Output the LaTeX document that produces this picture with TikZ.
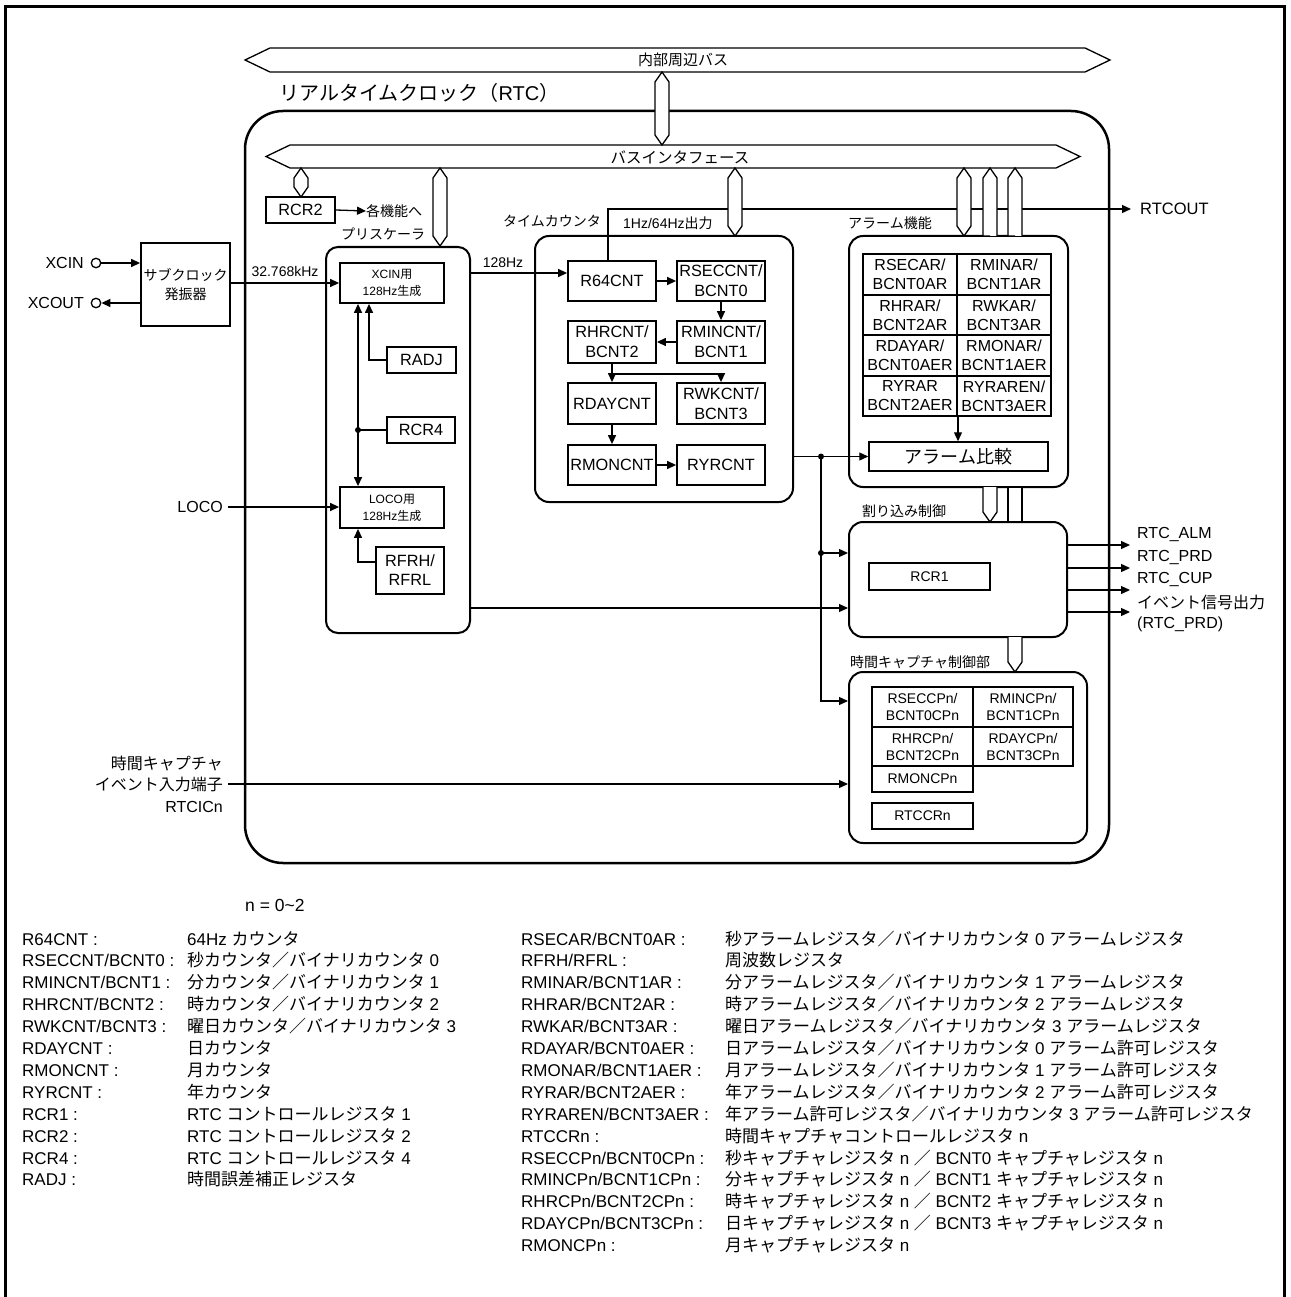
\documentclass[tikz,border=0pt]{standalone}
\usepackage{fontspec}
\setmainfont{Liberation Sans}
\newfontfamily\jp{Noto Sans CJK JP}
\usetikzlibrary{arrows.meta}
\newcommand\myfs[2]{\fontsize{#1pt}{#2pt}\selectfont}
\newcommand\vbus[3]{\draw[bus] (#1,#2) -- (#1+7,#2+10) -- (#1+7,#3-10) -- (#1,#3) -- (#1-7,#3-10) -- (#1-7,#2+10) -- cycle;}
\newcommand\lrowL[3]{\node[leg] (la#1) at (22,{945+21.9*#1}) {#2};\node[leg] (lb#1) at (187,{945+21.9*#1}) {#3};}
\newcommand\lrowR[3]{\node[leg] (ra#1) at (521,{945+21.9*#1}) {#2};\node[leg] (rb#1) at (725,{945+21.9*#1}) {#3};}
\tikzset{
 reg/.style={draw, line width=1.8pt, inner sep=0pt, align=center, fill=white, font=\myfs{16.3}{20}},
 grp/.style={draw, line width=2pt, rounded corners=14pt, inner sep=0pt},
 lab/.style={inner sep=0pt, font=\jp\myfs{14}{16}},
 sig/.style={inner sep=0pt, font=\myfs{16}{19}},
 ln/.style={line width=1.3pt},
 arr/.style={line width=1.3pt, -{Triangle[length=9pt,width=8pt]}},
 bus/.style={draw, line width=1.3pt, fill=white, line join=miter},
 leg/.style={inner sep=0pt, anchor=base west, font=\myfs{17}{20}},
 jdot/.style={circle, fill, inner sep=0pt, minimum size=6pt},
 pin/.style={circle, draw, line width=1.3pt, inner sep=0pt, minimum size=9.5pt},
 cell/.style={reg, line width=2pt, minimum width=94pt, minimum height=40.5pt, font=\myfs{16}{19}},
 ccell/.style={reg, line width=2pt, font=\myfs{14}{17}},
}
\begin{document}
\begin{tikzpicture}[x=1pt,y=-1pt]
\useasboundingbox (0,0) rectangle (1290,1297);
% frame
\draw[line width=3pt] (5,1297) -- (5,7) -- (1284,7) -- (1284,1297);

% RTC block
\node[grp, line width=2.5pt, rounded corners=38pt, minimum width=864pt, minimum height=752pt] (rtc) at (677,487) {};
\node[inner sep=0pt, anchor=west, font=\jp\myfs{20}{20}] (rtct) at (279,93) {リアルタイムクロック（{\rmfamily RTC}）};

% internal bus
\draw[bus] (245,60) -- (270,48) -- (1085,48) -- (1110,60) -- (1085,72) -- (270,72) -- cycle;
\node[lab, font=\jp\myfs{15}{15}] (ibusl) at (683,60) {内部周辺バス};

% bus interface
\draw[bus] (266,156.5) -- (290,145) -- (1056,145) -- (1080,156.5) -- (1056,168) -- (290,168) -- cycle;
\node[lab, font=\jp\myfs{15.5}{16}] (bifl) at (680,157) {バスインタフェース};

% groups
\node[grp, rounded corners=12pt, minimum width=144pt, minimum height=386pt] (pre) at (398,440) {};
\node[grp, minimum width=258pt, minimum height=266pt] (tc) at (664,369) {};
\node[grp, minimum width=219pt, minimum height=251pt] (alm) at (958.5,361.5) {};
\node[grp, minimum width=218pt, minimum height=115pt] (irq) at (958,579.5) {};
\node[grp, minimum width=238pt, minimum height=171pt] (cap) at (968,757.5) {};

% group labels
\node[lab] (prel) at (383,234) {プリスケーラ};
\node[lab] (tcl) at (552,221) {タイムカウンタ};
\node[lab, anchor=west] (outl) at (623,223) {{\rmfamily 1Hz/64Hz}出力};
\node[lab, anchor=west] (alml) at (848,223) {アラーム機能};
\node[lab, anchor=west] (irql) at (862,511) {割り込み制御};
\node[lab, anchor=west] (capl) at (850,662) {時間キャプチャ制御部};

% counters
\node[reg, minimum width=88pt, minimum height=40pt] (r64) at (612,281) {R64CNT};
\node[reg, minimum width=88pt, minimum height=40pt] (rsec) at (721,281) {RSECCNT/\\BCNT0};
\node[reg, minimum width=88pt, minimum height=42pt] (rmin) at (721,342) {RMINCNT/\\BCNT1};
\node[reg, minimum width=88pt, minimum height=42pt] (rhr) at (612,342) {RHRCNT/\\BCNT2};
\node[reg, minimum width=88pt, minimum height=41pt] (rday) at (612,403.5) {RDAYCNT};
\node[reg, minimum width=88pt, minimum height=41pt] (rwk) at (721,403.5) {RWKCNT/\\BCNT3};
\node[reg, minimum width=88pt, minimum height=40pt] (rmon) at (612,465) {RMONCNT};
\node[reg, minimum width=88pt, minimum height=40pt] (ryr) at (721,465) {RYRCNT};

% RTCOUT
\node[sig, anchor=west, font=\myfs{16.5}{19}] (rtcout) at (1140,209) {RTCOUT};
\draw[arr, shorten >=9pt] ([xshift=-4pt]r64.north) |- (rtcout.west);

% vertical buses
\vbus{662}{72}{145}
\vbus{301}{168}{197}
\vbus{440}{168}{246}
\vbus{735}{168}{236}
\vbus{964}{168}{236}
\draw[bus] (990,236) -- (983,236) -- (983,178) -- (990,168) -- (997,178) -- (997,236);
\draw[bus] (1015,236) -- (1008,236) -- (1008,178) -- (1015,168) -- (1022,178) -- (1022,236);
\draw[bus] (983,487) -- (983,512) -- (990,522) -- (997,512) -- (997,487);
\fill[white] (1008,488) rectangle (1022,521);
\draw[ln] (1008,487) -- (1008,522) (1022,487) -- (1022,522);
\draw[bus] (1008,637) -- (1008,662) -- (1015,672) -- (1022,662) -- (1022,637);

% RCR2
\node[reg, minimum width=69pt, minimum height=26pt] (rcr2) at (300.5,210) {RCR2};
\node[lab, anchor=west] (kaku) at (366,211) {各機能へ};
\draw[arr] (rcr2.east) -- (kaku.west);

% sub clock
\node[reg, font=\jp\myfs{14}{19}, minimum width=89pt, minimum height=83pt] (sub) at (185.5,284.5) {サブクロック\\発振器};
\node[pin] (xcinc) at (96,263) {};
\node[pin] (xcoutc) at (96,303) {};
\node[sig, anchor=east] (xcinl) at (84,263) {XCIN};
\node[sig, anchor=east] (xcoutl) at (84,303) {XCOUT};
\draw[arr] (xcinc.east) -- (xcinc.east -| sub.west);
\draw[arr] (xcoutc.east -| sub.west) -- (xcoutc.east);

% prescaler content
\node[reg, font=\myfs{12}{17}, minimum width=104pt, minimum height=40pt] (xg) at (392,283) {XCIN{\jp 用}\\128Hz{\jp 生成}};
\node[reg, font=\myfs{12}{17}, minimum width=104pt, minimum height=41pt] (lg) at (392,507.5) {LOCO{\jp 用}\\128Hz{\jp 生成}};
\node[reg, minimum width=69pt, minimum height=26pt] (radj) at (421.5,360) {RADJ};
\node[reg, minimum width=68pt, minimum height=26pt] (rcr4) at (421,430) {RCR4};
\node[reg, minimum width=68pt, minimum height=47pt, font=\myfs{16.3}{19}] (rfrh) at (410,570.5) {RFRH/\\RFRL};
\node[jdot] (pdot) at (358,430) {};
\draw[ln, {Triangle[length=9pt,width=8pt]}-{Triangle[length=9pt,width=8pt]}] (xg.south -| pdot) -- (lg.north -| pdot);
\draw[ln] (rcr4.west) -- (pdot.center);
\draw[arr] (radj.west) -| ([xshift=-23pt]xg.south);
\draw[arr] ([yshift=8.5pt]rfrh.west) -| (lg.south -| pdot);

\draw[arr] (sub.east |- xg.west) -- (xg.west);
\node[lab, font=\myfs{14}{16}] (khz) at (285,271) {32.768kHz};
\node[sig, anchor=east] (loco) at (223,507) {LOCO};
\draw[arr] ([xshift=5pt]loco.east) -- (lg.west |- loco.east);

% 128Hz
\coordinate (r64in) at ([yshift=8pt]r64.west);
\draw[arr] (pre.east |- r64in) -- (r64in);
\node[lab, font=\myfs{14}{16}] (l128) at (503,263) {128Hz};

% counter arrows
\draw[arr] (r64.east) -- (rsec.west);
\draw[arr] (rsec.south) -- (rmin.north);
\draw[arr] (rmin.west) -- (rhr.east);
\coordinate (hrbr) at ([yshift=-10pt]rhr.south);
\draw[ln] (rhr.south) -- (hrbr);
\draw[arr] (hrbr) -- (rday.north);
\draw[arr] (hrbr) -| (rwk.north);
\draw[arr] (rday.south) -- (rmon.north);
\draw[arr] (rmon.east) -- (ryr.west);

% alarm grid
\node[cell] (a11) at (910,274.5) {RSECAR/\\BCNT0AR};
\node[cell] (a12) at (1004,274.5) {RMINAR/\\BCNT1AR};
\node[cell] (a21) at (910,315) {RHRAR/\\BCNT2AR};
\node[cell] (a22) at (1004,315) {RWKAR/\\BCNT3AR};
\node[cell] (a31) at (910,355.5) {RDAYAR/\\BCNT0AER};
\node[cell] (a32) at (1004,355.5) {RMONAR/\\BCNT1AER};
\node[cell] (a41) at (910,396) {RYRAR\\BCNT2AER};
\node[cell] (a42) at (1004,396) {RYRAREN/\\BCNT3AER};
\node[reg, line width=1.5pt, minimum width=179pt, minimum height=29pt, font=\jp\myfs{18}{20}] (acmp) at (958.5,456.5) {アラーム比較};
\draw[arr] (a41.south east) -- (acmp.north -| a41.south east);

% time counter output
\coordinate (tco) at (tc.east |- acmp.west);
\draw[arr] (tco) -- (acmp.west);
\node[jdot] (d1) at (821,456.5) {};
\node[jdot] (d2) at (821,553) {};
\draw[arr] (d1.center) |- ([yshift=56.5pt]cap.west);
\draw[arr] (d2.center) -- (d2.center -| irq.west);
\coordinate (irqin2) at ([yshift=-28.5pt]irq.west);
\draw[arr] (pre.east |- irqin2) -- (irqin2);

% interrupt
\node[reg, minimum width=121pt, minimum height=27pt, font=\myfs{14}{16}] (rcr1) at (929.5,576.5) {RCR1};
\coordinate (o1) at (1130,545);
\coordinate (o2) at (1130,568);
\coordinate (o3) at (1130,590);
\coordinate (o4) at (1130,612);
\draw[arr] (irq.east |- o1) -- (o1);
\draw[arr] (irq.east |- o2) -- (o2);
\draw[arr] (irq.east |- o3) -- (o3);
\draw[arr] (irq.east |- o4) -- (o4);
\node[sig, anchor=west] (s1) at (1137,534) {RTC\_ALM};
\node[sig, anchor=west] (s2) at (1137,557) {RTC\_PRD};
\node[sig, anchor=west] (s3) at (1137,579) {RTC\_CUP};
\node[sig, anchor=west, font=\jp\myfs{16}{19}] (s4) at (1137,602) {イベント信号出力};
\node[sig, anchor=west] (s5) at (1137,624) {(RTC\_PRD)};

% capture
\node[ccell, minimum width=101pt, minimum height=40pt] (c11) at (922.5,707) {RSECCPn/\\BCNT0CPn};
\node[ccell, minimum width=100pt, minimum height=40pt] (c12) at (1023,707) {RMINCPn/\\BCNT1CPn};
\node[ccell, minimum width=101pt, minimum height=39pt] (c21) at (922.5,746.5) {RHRCPn/\\BCNT2CPn};
\node[ccell, minimum width=100pt, minimum height=39pt] (c22) at (1023,746.5) {RDAYCPn/\\BCNT3CPn};
\node[ccell, minimum width=101pt, minimum height=26pt] (c31) at (922.5,779) {RMONCPn};
\node[ccell, minimum width=101pt, minimum height=26pt] (rtccr) at (922.5,816) {RTCCRn};

\node[sig, align=right, anchor=east, font=\jp\myfs{16}{21.5}] (rtcic) at (223,784) {時間キャプチャ\\イベント入力端子\\{\rmfamily RTCICn}};
\draw[arr] ([xshift=5pt]rtcic.east) -- (cap.west |- rtcic.east);

% legend
\node[leg, anchor=west, font=\myfs{17.5}{20}] (nn) at (245,905) {n = 0\textasciitilde 2};
\lrowL{0}{R64CNT :}{64Hz {\jp カウンタ}}
\lrowL{1}{RSECCNT/BCNT0 :}{{\jp 秒カウンタ／バイナリカウンタ} 0}
\lrowL{2}{RMINCNT/BCNT1 :}{{\jp 分カウンタ／バイナリカウンタ} 1}
\lrowL{3}{RHRCNT/BCNT2 :}{{\jp 時カウンタ／バイナリカウンタ} 2}
\lrowL{4}{RWKCNT/BCNT3 :}{{\jp 曜日カウンタ／バイナリカウンタ} 3}
\lrowL{5}{RDAYCNT :}{{\jp 日カウンタ}}
\lrowL{6}{RMONCNT :}{{\jp 月カウンタ}}
\lrowL{7}{RYRCNT :}{{\jp 年カウンタ}}
\lrowL{8}{RCR1 :}{RTC {\jp コントロールレジスタ} 1}
\lrowL{9}{RCR2 :}{RTC {\jp コントロールレジスタ} 2}
\lrowL{10}{RCR4 :}{RTC {\jp コントロールレジスタ} 4}
\lrowL{11}{RADJ :}{{\jp 時間誤差補正レジスタ}}

\lrowR{0}{RSECAR/BCNT0AR :}{{\jp 秒アラームレジスタ／バイナリカウンタ} 0 {\jp アラームレジスタ}}
\lrowR{1}{RFRH/RFRL :}{{\jp 周波数レジスタ}}
\lrowR{2}{RMINAR/BCNT1AR :}{{\jp 分アラームレジスタ／バイナリカウンタ} 1 {\jp アラームレジスタ}}
\lrowR{3}{RHRAR/BCNT2AR :}{{\jp 時アラームレジスタ／バイナリカウンタ} 2 {\jp アラームレジスタ}}
\lrowR{4}{RWKAR/BCNT3AR :}{{\jp 曜日アラームレジスタ／バイナリカウンタ} 3 {\jp アラームレジスタ}}
\lrowR{5}{RDAYAR/BCNT0AER :}{{\jp 日アラームレジスタ／バイナリカウンタ} 0 {\jp アラーム許可レジスタ}}
\lrowR{6}{RMONAR/BCNT1AER :}{{\jp 月アラームレジスタ／バイナリカウンタ} 1 {\jp アラーム許可レジスタ}}
\lrowR{7}{RYRAR/BCNT2AER :}{{\jp 年アラームレジスタ／バイナリカウンタ} 2 {\jp アラーム許可レジスタ}}
\lrowR{8}{RYRAREN/BCNT3AER :}{{\jp 年アラーム許可レジスタ／バイナリカウンタ} 3 {\jp アラーム許可レジスタ}}
\lrowR{9}{RTCCRn :}{{\jp 時間キャプチャコントロールレジスタ} n}
\lrowR{10}{RSECCPn/BCNT0CPn :}{{\jp 秒キャプチャレジスタ} n {\jp ／} BCNT0 {\jp キャプチャレジスタ} n}
\lrowR{11}{RMINCPn/BCNT1CPn :}{{\jp 分キャプチャレジスタ} n {\jp ／} BCNT1 {\jp キャプチャレジスタ} n}
\lrowR{12}{RHRCPn/BCNT2CPn :}{{\jp 時キャプチャレジスタ} n {\jp ／} BCNT2 {\jp キャプチャレジスタ} n}
\lrowR{13}{RDAYCPn/BCNT3CPn :}{{\jp 日キャプチャレジスタ} n {\jp ／} BCNT3 {\jp キャプチャレジスタ} n}
\lrowR{14}{RMONCPn :}{{\jp 月キャプチャレジスタ} n}
\end{tikzpicture}
\end{document}
